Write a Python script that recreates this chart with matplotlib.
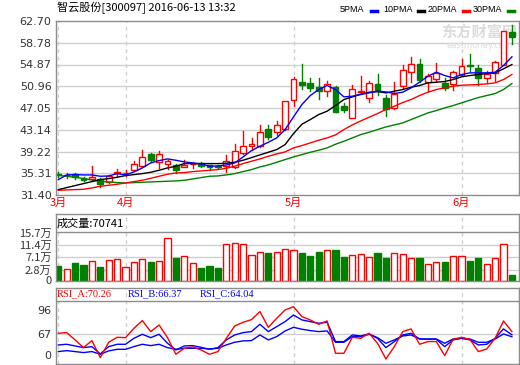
import matplotlib
matplotlib.use('Agg')
import matplotlib.pyplot as plt
from matplotlib.patches import Rectangle

# Daily candles (2016-03-22 .. 2016-06-13)
opens = [35.13, 34.95, 35.19, 34.47, 34.29, 34.29, 33.69, 35.37, 35.31, 35.85,
         36.57, 38.79, 37.29, 36.99, 36.87, 36.51, 36.93, 37.11, 36.75, 36.63,
         36.57, 36.45, 38.97, 40.17, 40.17, 43.29, 42.75, 43.29, 48.51, 51.69,
         51.63, 50.79, 50.13, 50.91, 47.49, 45.27, 49.95, 48.87, 51.45, 48.93,
         47.07, 50.97, 53.49, 54.93, 51.69, 52.23, 51.63, 51.39, 53.07, 54.75,
         54.27, 52.47, 53.37, 54.87, 60.75]
highs = [35.49, 35.37, 35.37, 34.65, 36.57, 34.47, 35.07, 36.09, 35.97, 37.47,
         39.57, 38.97, 39.27, 37.77, 37.05, 37.65, 37.29, 37.29, 36.87, 36.75,
         38.67, 40.65, 42.99, 41.67, 44.07, 44.07, 44.79, 48.39, 52.59, 55.05,
         52.47, 52.47, 51.99, 51.09, 47.97, 51.27, 52.89, 51.99, 53.25, 49.47,
         51.69, 54.87, 56.19, 55.95, 53.19, 55.11, 52.47, 53.67, 55.89, 56.73,
         54.87, 53.67, 55.47, 60.93, 62.01]
lows = [34.65, 34.47, 34.29, 33.87, 34.17, 32.85, 33.57, 34.77, 34.77, 35.67,
        36.45, 37.29, 36.27, 36.09, 35.37, 36.39, 36.27, 36.45, 35.97, 36.27,
        35.49, 36.27, 38.85, 39.45, 39.99, 41.55, 42.27, 43.17, 47.49, 50.55,
        50.07, 48.69, 49.17, 46.35, 46.29, 45.21, 49.77, 48.09, 49.47, 45.69,
        46.89, 50.67, 51.75, 51.69, 50.07, 51.99, 50.25, 50.37, 52.95, 53.67,
        51.21, 51.57, 51.87, 54.75, 58.65]
closes = [35.01, 35.07, 34.59, 34.05, 34.59, 33.39, 34.77, 35.55, 35.43, 37.05,
          38.25, 37.65, 38.79, 37.59, 35.97, 36.87, 37.05, 36.69, 36.51, 36.51,
          37.47, 39.27, 40.29, 40.65, 42.75, 41.79, 44.01, 48.39, 52.35, 51.15,
          50.67, 50.07, 51.39, 46.35, 46.65, 50.49, 50.13, 51.57, 50.07, 46.89,
          49.59, 53.85, 55.05, 52.17, 52.89, 53.31, 50.67, 53.55, 54.69, 54.57,
          52.47, 53.19, 55.29, 60.93, 59.85]

# moving averages as drawn
ma5 = [34.17, 35.01, 35.07, 35.01, 35.01, 34.77, 34.83, 35.25, 35.01, 35.55,
       36.27, 37.17, 37.59, 37.89, 37.65, 37.35, 37.17, 36.99, 36.57, 36.63,
       36.81, 37.17, 38.25, 39.39, 40.17, 40.89, 41.67, 43.17, 45.45, 47.67,
       49.29, 50.37, 51.09, 50.37, 49.05, 49.17, 49.47, 49.77, 50.07, 49.95,
       49.65, 49.89, 50.67, 51.69, 52.77, 53.49, 52.89, 52.47, 53.07, 53.37,
       53.37, 53.37, 53.49, 54.69, 56.25]
ma10 = [32.37, 32.73, 33.09, 33.45, 33.81, 34.17, 34.35, 34.59, 34.89, 35.07,
        35.25, 35.49, 35.85, 36.27, 36.57, 37.05, 37.05, 37.05, 37.05, 37.05,
        37.11, 37.29, 37.65, 38.13, 38.61, 39.09, 39.57, 40.47, 42.45, 44.13,
        44.97, 45.87, 46.47, 47.49, 48.57, 49.05, 49.53, 49.89, 50.01, 49.77,
        50.07, 50.37, 50.79, 51.09, 51.57, 51.69, 51.81, 52.17, 52.65, 52.89,
        53.07, 53.25, 53.37, 54.09, 54.87]
ma20 = [32.25, 32.31, 32.37, 32.43, 32.67, 32.97, 33.15, 33.33, 33.57, 33.81,
        34.05, 34.41, 34.77, 35.13, 35.37, 35.43, 35.61, 35.73, 35.85, 35.97,
        36.21, 36.57, 37.05, 37.47, 37.89, 38.37, 38.79, 39.15, 39.87, 40.29,
        40.77, 41.25, 41.67, 42.21, 43.17, 44.01, 44.73, 45.39, 46.05, 46.77,
        47.37, 48.03, 48.57, 49.29, 49.89, 50.37, 50.67, 50.97, 51.15, 51.21,
        51.27, 51.39, 51.57, 52.17, 53.07]
ma30 = [34.95, 34.77, 34.59, 34.35, 34.11, 33.87, 33.75, 33.63, 33.57, 33.63,
        33.69, 33.75, 33.81, 33.87, 33.93, 34.05, 34.29, 34.53, 34.77, 34.83,
        35.01, 35.25, 35.61, 35.97, 36.45, 36.81, 37.29, 37.77, 38.25, 38.67,
        39.09, 39.45, 39.87, 40.53, 41.07, 41.67, 42.27, 42.69, 43.17, 43.65,
        44.01, 44.37, 44.97, 45.57, 46.17, 46.59, 47.07, 47.49, 47.97, 48.45,
        48.93, 49.29, 49.65, 50.37, 51.45]

# volume in 万
volume = [4.72, 3.95, 5.71, 5.05, 6.26, 4.39, 6.59, 6.92, 4.61, 5.93,
          6.92, 6.04, 6.26, 14.16, 7.36, 7.91, 5.71, 4.06, 4.72, 4.06,
          11.86, 12.19, 11.86, 8.56, 9.55, 9.00, 9.55, 10.21, 9.88, 9.00,
          8.02, 9.33, 9.88, 9.99, 7.69, 8.24, 8.89, 7.58, 9.00, 7.36,
          9.22, 8.89, 7.25, 7.25, 5.27, 6.15, 6.04, 7.91, 7.91, 6.37,
          7.25, 5.27, 7.25, 11.86, 1.76]

rsi_a = [68.2, 69.0, 60.3, 51.1, 59.5, 39.2, 57.5, 63.4, 63.0, 74.1,
         83.3, 70.2, 78.1, 63.0, 43.2, 50.3, 51.9, 48.3, 43.2, 46.4,
         62.2, 76.9, 81.3, 84.5, 94.1, 75.3, 86.1, 96.0, 99.9, 88.0,
         84.1, 78.9, 82.9, 44.4, 44.4, 63.4, 62.2, 68.2, 56.3, 37.6,
         52.3, 70.2, 73.4, 55.1, 58.3, 58.3, 41.6, 61.0, 63.4, 61.0,
         46.4, 49.5, 62.2, 82.9, 70.26]
rsi_b = [54.3, 55.1, 53.1, 51.1, 52.3, 43.6, 52.3, 55.1, 55.1, 62.2,
         67.0, 63.0, 67.0, 56.3, 48.3, 53.1, 53.5, 51.5, 49.1, 51.1,
         60.3, 66.2, 69.0, 70.2, 78.9, 70.2, 76.1, 82.1, 90.0, 84.1,
         82.1, 80.1, 81.3, 58.3, 58.3, 66.2, 65.0, 67.4, 62.2, 51.1,
         58.3, 66.2, 68.2, 61.4, 61.0, 61.0, 52.3, 60.3, 62.2, 60.3,
         54.3, 55.1, 62.2, 73.4, 66.37]
rsi_c = [46.4, 47.5, 46.4, 45.2, 46.4, 43.2, 47.2, 49.1, 49.1, 52.3,
         55.1, 53.5, 55.1, 51.1, 49.1, 50.3, 50.3, 50.3, 49.5, 50.3,
         54.3, 57.5, 59.1, 59.5, 66.2, 60.3, 64.2, 71.0, 75.3, 73.0,
         71.4, 70.2, 71.0, 57.5, 57.5, 64.2, 64.2, 67.0, 63.0, 56.3,
         60.3, 65.0, 66.2, 61.4, 61.4, 61.4, 56.3, 61.4, 62.2, 61.4,
         57.5, 57.5, 61.4, 67.4, 64.04]

month_idx = [0, 8, 28, 48]
month_labels = ['3月', '4月', '5月', '6月']
price_labels = ['31.40', '35.31', '39.22', '43.14', '47.05', '50.96', '54.87', '58.78', '62.70']
vol_labels = ['0', '2.8万', '7.1万', '11.4万', '15.7万']
rsi_labels = ['0', '67', '96']

# colours
red = '#ff0000'
green = '#008000'
blue = '#0000ff'
frame_color = '#8c8c8c'
grid_color = '#cfcfcf'
text_color = '#333333'
cjk = ['Noto Sans CJK SC', 'DejaVu Sans']

W, H = 520, 365
fig = plt.figure(figsize=(W / 100, H / 100), dpi=100, facecolor='white')


def box(x0, y0, x1, y1):
    # pixel box (top-left origin) -> figure rect
    return [x0 / W, 1 - y1 / H, (x1 - x0) / W, (y1 - y0) / H]


def style(ax):
    for s in ax.spines.values():
        s.set_color(frame_color)
        s.set_linewidth(1)
    ax.tick_params(length=0, labelsize=8, colors=text_color, pad=3)
    ax.set_xlim(-0.31, 54.88)
    for m in month_idx:
        ax.axvline(m, color=grid_color, lw=0.9, ls=(0, (3, 3)), zorder=0)


n = len(closes)
xs = list(range(n))

# ---- price panel ----
ax1 = fig.add_axes(box(55.7, 21, 519.3, 195))
style(ax1)
ax1.set_ylim(31.40, 62.70)
price_ticks = [31.40 + k * (62.70 - 31.40) / 8 for k in range(9)]
ax1.set_yticks(price_ticks)
ax1.set_yticklabels(price_labels)
for t in price_ticks[1:-1]:
    ax1.axhline(t, color=grid_color, lw=1, zorder=0)
ax1.set_xticks(month_idx)
ax1.set_xticklabels(month_labels, color=red, fontsize=8, family=cjk)
ax1.tick_params(axis='x', pad=2)

w = 0.7
for i in xs:
    o, h, l, c = opens[i], highs[i], lows[i], closes[i]
    if c >= o:
        ax1.plot([i, i], [c, h], color=red, lw=1, zorder=2)
        ax1.plot([i, i], [l, o], color=red, lw=1, zorder=2)
        ax1.add_patch(Rectangle((i - w / 2, o), w, max(c - o, 0.02), facecolor='white',
                                edgecolor=red, lw=1, zorder=2))
    else:
        ax1.plot([i, i], [l, h], color=green, lw=1, zorder=2)
        ax1.add_patch(Rectangle((i - w / 2, c), w, o - c, facecolor=green,
                                edgecolor=green, lw=1, zorder=2))

ax1.plot(xs, ma30, color=green, lw=1, zorder=3)
ax1.plot(xs, ma20, color=red, lw=1, zorder=3)
ax1.plot(xs, ma10, color='black', lw=1, zorder=3)
ax1.plot(xs, ma5, color=blue, lw=1, zorder=3)

# watermark
ax1.text(0.995, 0.985, '东方财富网', transform=ax1.transAxes, ha='right', va='top',
         fontsize=11, fontweight='bold', color='#dcdcdc', family=cjk, zorder=1)
ax1.text(0.985, 0.885, 'eastmoney.com', transform=ax1.transAxes, ha='right', va='top',
         fontsize=6, color='#dcdcdc', zorder=1)

# ---- volume panel ----
ax2 = fig.add_axes(box(55.7, 214, 519.3, 280.5))
style(ax2)
ax2.set_ylim(0, 21.9)
vol_ticks = [0, 3.62, 7.67, 11.73, 15.7]
ax2.set_yticks(vol_ticks)
ax2.set_yticklabels(vol_labels, family=cjk)
ax2.set_xticks([])
for t in vol_ticks[1:4]:
    ax2.axhline(t, color=grid_color, lw=1, zorder=0)
ax2.axhline(15.9, color=frame_color, lw=1, zorder=1)
for i in xs:
    if closes[i] >= opens[i]:
        ax2.bar(i, volume[i], width=0.72, facecolor='white', edgecolor=red, lw=1, zorder=2)
    else:
        ax2.bar(i, volume[i], width=0.72, facecolor=green, edgecolor=green, lw=1, zorder=2)
ax2.text(0.003, 0.86, '成交量:70741', transform=ax2.transAxes, ha='left', va='center',
         fontsize=8, color='black', family=cjk)

# ---- RSI panel ----
ax3 = fig.add_axes(box(55.7, 287.7, 519.3, 364))
style(ax3)
ax3.set_ylim(31.6, 122.5)
ax3.set_yticks([42.0, 67, 96])
ax3.set_yticklabels(rsi_labels)
ax3.set_xticks([])
ax3.axhline(67, color=grid_color, lw=1, zorder=0)
ax3.axhline(106.7, color=frame_color, lw=1, zorder=1)
ax3.plot(xs, rsi_c, color=blue, lw=1, zorder=2)
ax3.plot(xs, rsi_b, color=blue, lw=1, zorder=2)
ax3.plot(xs, rsi_a, color=red, lw=1, zorder=3)
ax3.text(0.003, 0.92, 'RSI_A:70.26', transform=ax3.transAxes, ha='left',
         va='center', fontsize=7.5, color=red, family='Liberation Serif')
ax3.text(0.155, 0.92, 'RSI_B:66.37', transform=ax3.transAxes, ha='left',
         va='center', fontsize=7.5, color=blue, family='Liberation Serif')
ax3.text(0.31, 0.92, 'RSI_C:64.04', transform=ax3.transAxes, ha='left',
         va='center', fontsize=7.5, color=blue, family='Liberation Serif')

# ---- header ----
fig.text(57 / W, 1 - 8 / H, '智云股份[300097] 2016-06-13 13:32', ha='left', va='center',
         fontsize=8, color='black', family=cjk)
legend_items = [('5PMA', 340, 371, blue), ('10PMA', 383, 418, 'black'),
                ('20PMA', 428, 463, red), ('30PMA', 473, 508, green)]
for label, tx, lx, col in legend_items:
    fig.text(tx / W, 1 - 10 / H, label, ha='left', va='center', fontsize=6.5,
             color='black', family='Liberation Sans')
    fig.add_artist(plt.Line2D([lx / W, (lx + 6) / W], [1 - 10.5 / H, 1 - 10.5 / H],
                              color=col, lw=2.5))

plt.savefig('out.png', dpi=100, facecolor='white')
plt.close()
